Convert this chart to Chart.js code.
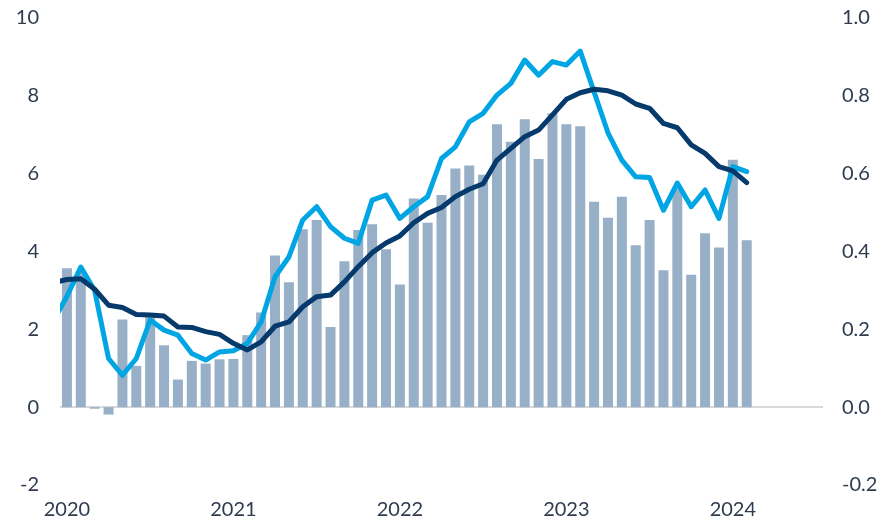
<!DOCTYPE html>
<html>
<head>
<meta charset="utf-8">
<script src="https://cdn.jsdelivr.net/npm/chart.js@4"></script>
<style>
  html, body { margin: 0; padding: 0; background: #ffffff; }
  #wrap { width: 894px; height: 529px; }
</style>
</head>
<body>
<div id="wrap"><canvas id="c" width="894" height="529"></canvas></div>
<script>
// Months: Dec 2019 (partly visible at left edge) to Jul 2024 (axis extends past data)
const months = [
  '2019-12',
  '2020-01','2020-02','2020-03','2020-04','2020-05','2020-06','2020-07','2020-08','2020-09','2020-10','2020-11','2020-12',
  '2021-01','2021-02','2021-03','2021-04','2021-05','2021-06','2021-07','2021-08','2021-09','2021-10','2021-11','2021-12',
  '2022-01','2022-02','2022-03','2022-04','2022-05','2022-06','2022-07','2022-08','2022-09','2022-10','2022-11','2022-12',
  '2023-01','2023-02','2023-03','2023-04','2023-05','2023-06','2023-07','2023-08','2023-09','2023-10','2023-11','2023-12',
  '2024-01','2024-02','2024-03','2024-04','2024-05','2024-06','2024-07'
];

// Monthly change (right axis), Dec 2019 .. Feb 2024
const monthlyBars = [
  null,
  0.357, 0.35, -0.004, -0.019, 0.225, 0.106, 0.232, 0.159, 0.071, 0.119, 0.112, 0.123,
  0.124, 0.185, 0.243, 0.39, 0.321, 0.457, 0.481, 0.206, 0.375, 0.455, 0.47, 0.406,
  0.315, 0.536, 0.474, 0.545, 0.613, 0.621, 0.597, 0.727, 0.682, 0.74, 0.638, 0.755,
  0.727, 0.722, 0.528, 0.487, 0.541, 0.416, 0.481, 0.352, 0.56, 0.34, 0.447, 0.41,
  0.636, 0.429
];

// Annual rate, light blue (left axis)
const annualLight = [
  2.2,
  2.85, 3.6, 3.0, 1.25, 0.82, 1.25, 2.24, 1.98, 1.85, 1.38, 1.21, 1.42,
  1.45, 1.64, 2.19, 3.35, 3.86, 4.81, 5.15, 4.64, 4.34, 4.21, 5.32, 5.45,
  4.85, 5.15, 5.41, 6.39, 6.69, 7.33, 7.55, 8.02, 8.32, 8.92, 8.53, 8.88,
  8.79, 9.15, 8.1, 7.05, 6.35, 5.92, 5.9, 5.06, 5.76, 5.15, 5.58, 4.85,
  6.18, 6.05
];

// Annual rate, dark navy (left axis)
const annualDark = [
  3.2,
  3.28, 3.3, 3.03, 2.62, 2.56, 2.38, 2.37, 2.34, 2.06, 2.05, 1.94, 1.87,
  1.64, 1.47, 1.68, 2.08, 2.19, 2.58, 2.84, 2.88, 3.22, 3.61, 3.97, 4.22,
  4.4, 4.74, 4.98, 5.13, 5.41, 5.6, 5.74, 6.35, 6.65, 6.95, 7.12, 7.51,
  7.91, 8.08, 8.17, 8.13, 8.02, 7.79, 7.68, 7.29, 7.18, 6.74, 6.52, 6.18,
  6.07, 5.77
];

const leftTicks = { min: -2, max: 10, step: 2 };
const rightTicks = { min: -0.2, max: 1.0, step: 0.2 };

const FONT = { family: 'Lato, "Open Sans", sans-serif', size: 20 };
const TEXT = '#2e3b4e';

new Chart(document.getElementById('c'), {
  data: {
    labels: months,
    datasets: [
      {
        type: 'line',
        data: annualDark,
        yAxisID: 'y',
        borderColor: '#063a6c',
        borderWidth: 5,
        pointRadius: 0,
        tension: 0,
        borderCapStyle: 'round',
        borderJoinStyle: 'round',
        order: 0
      },
      {
        type: 'line',
        data: annualLight,
        yAxisID: 'y',
        borderColor: '#00a5e3',
        borderWidth: 5,
        pointRadius: 0,
        tension: 0,
        borderCapStyle: 'round',
        borderJoinStyle: 'round',
        order: 1
      },
      {
        type: 'bar',
        data: monthlyBars,
        yAxisID: 'y1',
        backgroundColor: '#97afc7',
        borderWidth: 0,
        categoryPercentage: 1,
        barPercentage: 0.72,
        order: 2
      }
    ]
  },
  options: {
    responsive: false,
    animation: false,
    layout: { padding: { top: 18, left: 0, right: 0, bottom: 0 } },
    plugins: { legend: { display: false }, tooltip: { enabled: false } },
    scales: {
      x: {
        type: 'category',
        min: '2020-01',
        offset: true,
        grid: { display: false, drawTicks: false },
        border: { display: false },
        ticks: {
          autoSkip: false,
          maxRotation: 0,
          padding: 13,
          font: FONT,
          color: TEXT,
          callback: function (value) {
            const l = this.getLabelForValue(value);
            return l.endsWith('-01') ? l.slice(0, 4) : '';
          }
        },
        afterFit: function (s) { s.height = 44; s.paddingLeft = 0; s.paddingRight = 0; }
      },
      y: {
        position: 'left',
        min: leftTicks.min,
        max: leftTicks.max,
        grid: {
          drawTicks: false,
          lineWidth: 2,
          color: function (ctx) { return ctx.tick && ctx.tick.value === 0 ? '#d9d9d9' : 'rgba(0,0,0,0)'; }
        },
        border: { display: false },
        ticks: { stepSize: leftTicks.step, padding: 21, font: FONT, color: TEXT },
        afterFit: function (s) { s.width = 60; s.paddingTop = 0; s.paddingBottom = 0; }
      },
      y1: {
        position: 'right',
        min: rightTicks.min,
        max: rightTicks.max,
        grid: { display: false, drawTicks: false },
        border: { display: false },
        ticks: {
          stepSize: rightTicks.step,
          padding: 19,
          font: FONT,
          color: TEXT,
          callback: function (v) { return Math.abs(v) < 1e-9 ? '0.0' : Number(v).toFixed(1); }
        },
        afterFit: function (s) { s.width = 71; s.paddingTop = 0; s.paddingBottom = 0; }
      }
    }
  }
});
</script>
</body>
</html>
